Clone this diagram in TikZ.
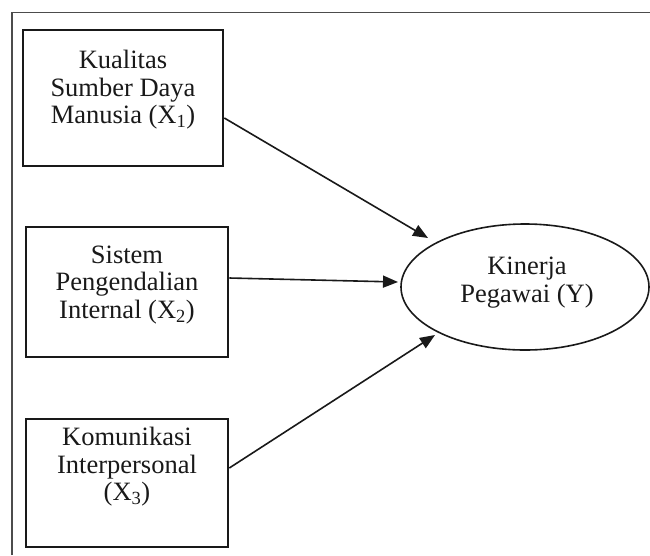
\documentclass[tikz,border=0pt]{standalone}
\usepackage{fontspec}
\setmainfont{Liberation Serif}
\usetikzlibrary{arrows.meta,shapes.geometric}
\begin{document}
\begin{tikzpicture}[x=1pt,y=-1pt,
  box/.style={draw=black!90, line width=2.6pt, inner sep=0pt},
  lbl/.style={align=center, font=\fontsize{26.5}{27.5}\selectfont, text=black!90, inner sep=0pt},
  oval/.style={ellipse, draw=black!90, line width=1.6pt, inner sep=0pt, minimum width=248pt, minimum height=126pt},
  arr/.style={-{Triangle[length=15pt,width=12pt]}, line width=1.6pt, draw=black!90},
  frame/.style={draw=black!70, line width=1.2pt}
]
\useasboundingbox (0,0) rectangle (650,555);
\draw[frame] (12,555) -- (12,12.5) -- (650,12.5);

\node[box, minimum width=200pt, minimum height=136pt] (b1) at (123,98) {};
\node[box, minimum width=202pt, minimum height=130pt] (b2) at (127,292) {};
\node[box, minimum width=202pt, minimum height=128pt] (b3) at (127,483) {};
\node[oval] (e) at (525,287) {};

\node[lbl] (l1) at (123,90) {Kualitas\\Sumber Daya\\Manusia (X\textsubscript{1})};
\node[lbl] (l2) at (127,285) {Sistem\\Pengendalian\\Internal (X\textsubscript{2})};
\node[lbl] (l3) at (127,467) {Komunikasi\\Interpersonal\\(X\textsubscript{3})};
\node[lbl] (ly) at (527,282.5) {Kinerja\\Pegawai (Y)};

\coordinate (t1) at (428,238);
\coordinate (t2) at (398,282);
\coordinate (t3) at (435,335);
\draw[arr] ([yshift=-20pt]b1.east) -- (t1);
\draw[arr] ([yshift=14pt]b2.east) -- (t2);
\draw[arr] ([yshift=15pt]b3.east) -- (t3);
\end{tikzpicture}
\end{document}
